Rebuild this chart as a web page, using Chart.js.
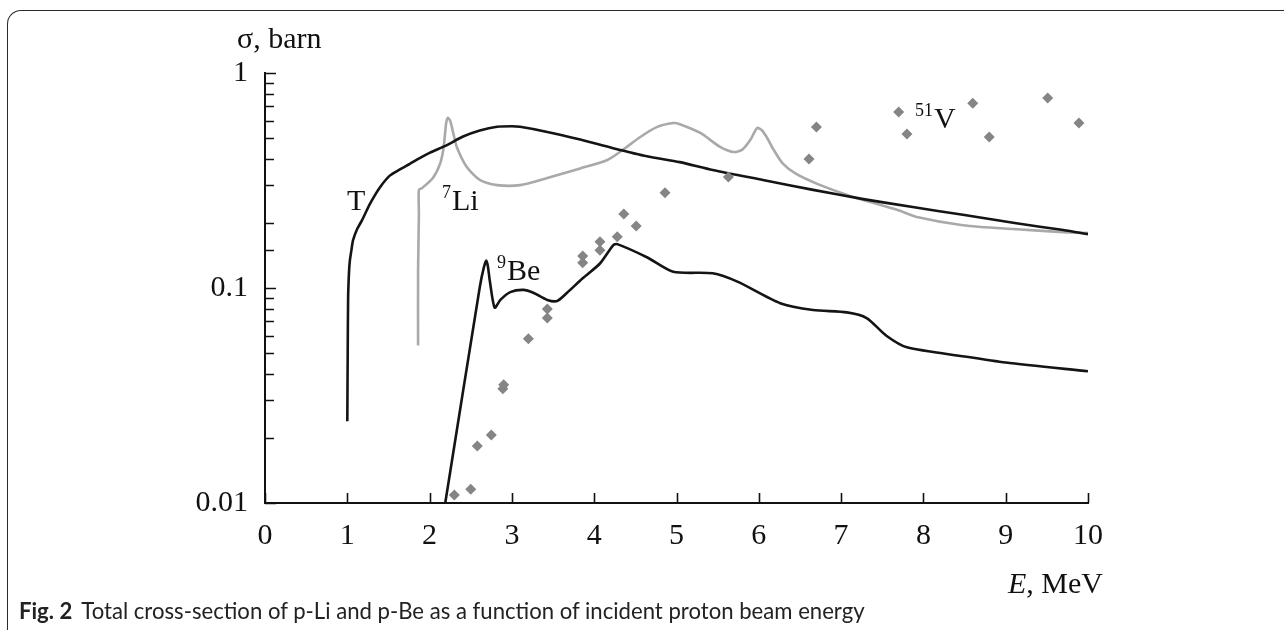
<!DOCTYPE html>
<html>
<head>
<meta charset="utf-8">
<script src="https://cdn.jsdelivr.net/npm/chart.js@4.4.1/dist/chart.umd.min.js"></script>
<style>
  html, body { margin: 0; padding: 0; background: #fff; }
  #wrap { position: relative; width: 1284px; height: 630px; overflow: hidden; }
  #frame { position: absolute; left: 7px; top: 10px; width: 1300px; height: 660px;
           border-top: 1.5px solid #2a2a2a; border-left: 1.5px solid #2a2a2a;
           border-top-left-radius: 14px; }
  #plot { position: absolute; left: 0; top: 0; }
  #caption { position: absolute; left: 19px; top: 600px; white-space: nowrap;
             font-family: Lato, "Noto Sans", sans-serif;
             font-size: 18px; color: #222; line-height: 22px; }
  #caption b { font-weight: bold; margin-right: 9px; }
</style>
</head>
<body>
<div id="wrap">
  <div id="frame"></div>
  <canvas id="plot" width="1284" height="630"></canvas>
  <div id="caption"><b>Fig. 2</b><span id="capText">Total cross-section of p-Li and p-Be as a function of incident proton beam energy</span></div>
</div>
<script>
// Proton energy E (MeV) and total cross-section sigma (barn)

// T curve
const energyT = [1.00, 1.005, 1.01, 1.02, 1.03, 1.05, 1.07, 1.12, 1.18, 1.28, 1.40, 1.52, 1.64, 1.76, 1.88,
                 2.00, 2.21, 2.40, 2.61, 2.82, 3.00, 3.10, 3.43, 3.83, 4.23, 4.64, 5.04, 5.44, 6.05,
                 6.66, 7.27, 7.87, 8.48, 9.09, 9.70, 10.0];
const sigmaT  = [0.024, 0.050, 0.090, 0.117, 0.133, 0.150, 0.167, 0.188, 0.207, 0.248, 0.295, 0.334, 0.356, 0.378, 0.402,
                 0.425, 0.462, 0.505, 0.540, 0.562, 0.565, 0.562, 0.532, 0.490, 0.447, 0.410, 0.385, 0.354, 0.318,
                 0.286, 0.259, 0.238, 0.219, 0.201, 0.186, 0.178];

// 7Li curve
const energyLi = [1.86, 1.86, 1.87, 1.87, 1.91, 2.04, 2.13, 2.17, 2.20, 2.22, 2.25, 2.29, 2.33, 2.45, 2.61,
                  2.82, 3.10, 3.43, 3.83, 4.16, 4.35, 4.56, 4.76, 4.96, 5.04, 5.29, 5.53, 5.69, 5.80,
                  5.90, 5.98, 6.04, 6.10, 6.18, 6.29, 6.45, 6.71, 7.11, 7.68, 7.92, 8.48, 9.09, 9.70, 10.0];
const sigmaLi  = [0.054, 0.120, 0.220, 0.286, 0.292, 0.325, 0.381, 0.450, 0.580, 0.618, 0.600, 0.520, 0.453, 0.366, 0.318,
                  0.301, 0.301, 0.325, 0.360, 0.394, 0.440, 0.504, 0.560, 0.585, 0.578, 0.526, 0.453, 0.429, 0.440,
                  0.490, 0.555, 0.540, 0.500, 0.440, 0.380, 0.340, 0.305, 0.268, 0.231, 0.214, 0.196, 0.188, 0.182, 0.180];

// 9Be curve
const energyBe = [2.19, 2.61, 2.66, 2.69, 2.71, 2.73, 2.79, 2.86, 2.98, 3.14, 3.26, 3.43, 3.55, 3.67, 3.86,
                  4.07, 4.23, 4.28, 4.64, 4.96, 5.44, 5.74, 6.26, 6.66, 7.07, 7.31, 7.55, 7.80, 8.50, 9.00, 10.0];
const sigmaBe  = [0.0100, 0.101, 0.125, 0.134, 0.125, 0.109, 0.081, 0.088, 0.0957, 0.098, 0.095, 0.088, 0.087, 0.095, 0.111,
                  0.130, 0.158, 0.160, 0.139, 0.119, 0.117, 0.107, 0.085, 0.079, 0.077, 0.0725, 0.060, 0.053, 0.048, 0.045, 0.041];

// 51V measured points
const energyV = [2.30, 2.50, 2.58, 2.75, 2.89, 2.90, 3.20, 3.43, 3.43, 3.86, 3.86, 4.07, 4.07, 4.28, 4.36,
                 4.51, 4.86, 5.63, 6.61, 6.70, 7.70, 7.80, 8.60, 8.80, 9.51, 9.89];
const sigmaV  = [0.0109, 0.0116, 0.0184, 0.0207, 0.0340, 0.0355, 0.058, 0.0725, 0.0798, 0.131, 0.141, 0.150, 0.164, 0.173, 0.221,
                 0.194, 0.277, 0.328, 0.398, 0.561, 0.659, 0.520, 0.724, 0.504, 0.766, 0.585];

// Axis ticks
const xTickValues = [0, 1, 2, 3, 4, 5, 6, 7, 8, 9, 10];
const yTickLabels = ['0.01', '0.1', '1'];

// Curve labels: [superscript, main text, E, sigma] (anchor = left edge / baseline)
const curveLabels = [
  ['', 'T', 0.996, 0.2307],
  ['7', 'Li', 2.151, 0.2307],
  ['9', 'Be', 2.819, 0.1089],
  ['51', 'V', 7.898, 0.5546]
];

const pts = (xs, ys) => xs.map((x, i) => ({ x: x, y: ys[i] }));
const SERIF = '"Liberation Serif", "Times New Roman", serif';

// caption sized to its line length
(function fitCaption() {
  const cap = document.getElementById('caption');
  const span = document.getElementById('capText');
  const w = span.getBoundingClientRect().width;
  const target = 784;
  if (w > 0) cap.style.fontSize = (18 * target / w).toFixed(2) + 'px';
})();

const innerTicks = {
  id: 'innerTicks',
  afterDraw(chart) {
    const ctx = chart.ctx, a = chart.chartArea;
    const xs = chart.scales.x, ys = chart.scales.y;
    ctx.save();
    ctx.strokeStyle = '#111';
    ctx.lineWidth = 1.6;
    ctx.beginPath();
    ys.ticks.forEach(t => {
      const p = Math.round(ys.getPixelForValue(t.value)) + 0.5;
      const lg = Math.log10(t.value);
      const len = Math.abs(lg - Math.round(lg)) < 1e-6 ? 11 : 9;
      ctx.moveTo(a.left, p);
      ctx.lineTo(a.left + len, p);
    });
    xs.ticks.forEach(t => {
      const p = Math.round(xs.getPixelForValue(t.value)) + 0.5;
      ctx.moveTo(p, a.bottom);
      ctx.lineTo(p, a.bottom - 10);
    });
    ctx.stroke();
    ctx.restore();
  }
};

const textLayer = {
  id: 'textLayer',
  afterDraw(chart) {
    const ctx = chart.ctx, a = chart.chartArea;
    const xs = chart.scales.x, ys = chart.scales.y;
    ctx.save();
    ctx.fillStyle = '#111';
    ctx.textBaseline = 'alphabetic';
    ctx.textAlign = 'left';
    curveLabels.forEach(([sup, main, e, s]) => {
      let px = xs.getPixelForValue(e);
      const py = ys.getPixelForValue(s);
      if (sup) {
        ctx.font = '18px ' + SERIF;
        ctx.fillText(sup, px, py - 12);
        px += ctx.measureText(sup).width + 1;
      }
      ctx.font = '30px ' + SERIF;
      ctx.fillText(main, px, py);
    });
    // y-axis title
    ctx.font = '30px ' + SERIF;
    ctx.fillText('\u03c3, barn', a.left - 28, a.top - 25);
    // x-axis title
    ctx.textAlign = 'right';
    const unit = ', MeV';
    const right = a.right + 15, base = a.bottom + 90;
    ctx.fillText(unit, right, base);
    const uw = ctx.measureText(unit).width;
    ctx.font = 'italic 30px ' + SERIF;
    ctx.fillText('E', right - uw, base);
    ctx.restore();
  }
};

new Chart(document.getElementById('plot'), {
  type: 'scatter',
  data: {
    datasets: [
      { label: 'T', data: pts(energyT, sigmaT), showLine: true, borderColor: '#141414', borderWidth: 2.6,
        pointRadius: 0, tension: 0.25, order: 2 },
      { label: '7Li', data: pts(energyLi, sigmaLi), showLine: true, borderColor: '#a9a9a9', borderWidth: 2.6,
        pointRadius: 0, tension: 0.25, order: 3 },
      { label: '9Be', data: pts(energyBe, sigmaBe), showLine: true, borderColor: '#141414', borderWidth: 2.6,
        pointRadius: 0, tension: 0.25, order: 2 },
      { label: '51V', data: pts(energyV, sigmaV), showLine: false, pointStyle: 'rectRot', pointRadius: 5.5,
        backgroundColor: '#858585', borderColor: '#858585', borderWidth: 0, order: 1 }
    ]
  },
  options: {
    responsive: false,
    animation: false,
    devicePixelRatio: 1,
    layout: { padding: { left: 0, right: 196, top: 73, bottom: 0 } },
    plugins: { legend: { display: false }, tooltip: { enabled: false }, title: { display: false } },
    scales: {
      x: {
        type: 'linear', min: 0, max: 10,
        afterBuildTicks: s => { s.ticks = xTickValues.map(v => ({ value: v })); },
        afterFit: s => { s.height = 127; },
        grid: { display: false, drawTicks: false },
        border: { display: true, color: '#111', width: 2 },
        ticks: { color: '#111', padding: 15, maxRotation: 0, autoSkip: false,
                 font: { family: SERIF, size: 30 } }
      },
      y: {
        type: 'logarithmic', min: 0.01, max: 1,
        afterFit: s => { s.width = 265; },
        grid: { display: false, drawTicks: false },
        border: { display: true, color: '#111', width: 2 },
        ticks: {
          color: '#111', padding: 17, autoSkip: false,
          font: { family: SERIF, size: 30 },
          callback: v => {
            const lbl = yTickLabels.find(l => Math.abs(parseFloat(l) - v) < 1e-9);
            return lbl ? lbl : '';
          }
        }
      }
    }
  },
  plugins: [innerTicks, textLayer]
});
</script>
</body>
</html>
